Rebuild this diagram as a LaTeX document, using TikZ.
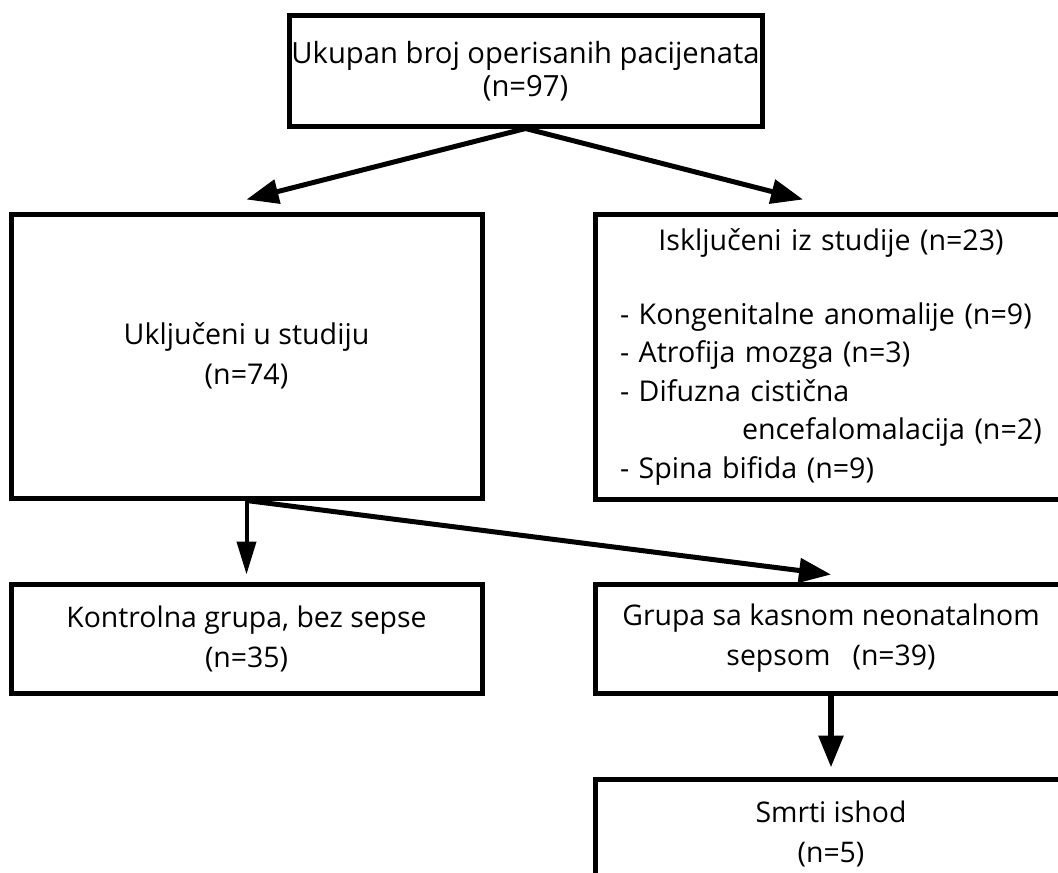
\documentclass[tikz,border=0pt]{standalone}
\usepackage{fontspec}
\setmainfont{Open Sans}
\usetikzlibrary{arrows.meta}

\begin{document}
\begin{tikzpicture}[x=0.5pt, y=-0.5pt,
    box/.style={draw, line width=2.5pt, inner sep=0pt, align=center,
      font=\fontsize{14.2}{20}\selectfont},
    arr/.style={-{Triangle[length=16pt, width=12pt]}, line width=2.5pt}]

    % Frame of the picture (the right-hand boxes run off the edge)
    \useasboundingbox (0,0) rectangle (1058,872);
    \clip (0,0) rectangle (1058,872);

    % Boxes
    \node[box, minimum width=236.5pt, minimum height=55pt,
      font=\fontsize{14.6}{16.5}\selectfont] (total) at (525.5,71)
      {Ukupan broj operisanih pacijenata\\(n=97)};

    \node[box, minimum width=235.5pt, minimum height=142pt,
      font=\fontsize{14.3}{20}\selectfont] (incl) at (246.5,356)
      {Uključeni u studiju\\(n=74)};

    \node[box, minimum width=236pt, minimum height=142.5pt, text width=211pt,
      align=left, font=\fontsize{14.3}{19.2}\selectfont] (excl) at (831,356.5)
      {{\centering Isključeni iz studije (n=23)\par}
       \vspace{18pt}
       - Kongenitalne anomalije (n=9)\\
       - Atrofija mozga (n=3)\\
       - Difuzna cistična\\
       \hspace*{61pt}encefalomalacija (n=2)\\
       - Spina bifida (n=9)};

    \node[box, minimum width=235.5pt, minimum height=54.5pt] (control) at (246.5,638.5)
      {Kontrolna grupa, bez sepse\\(n=35)};

    \node[box, minimum width=236pt, minimum height=54.5pt] (sepsis) at (831,638.5)
      {Grupa sa kasnom neonatalnom\\sepsom\ \ \ (n=39)};

    \node[box, minimum width=236pt, minimum height=54.5pt] (death) at (831,833.5)
      {Smrti ishod\\(n=5)};

    % Arrows
    \draw[arr] (total.south) -- ([yshift=6pt]incl.north);
    \draw[arr] (total.south) -- ([xshift=-14pt, yshift=6pt]excl.north);
    \draw[-{Triangle[length=16.5pt, width=9.5pt]}, line width=2pt]
      (incl.south) -- ([yshift=3.5pt]control.north);
    \draw[arr] (incl.south) -- ([yshift=3.5pt]sepsis.north);
    \draw[arr, line width=3pt] (sepsis.south) -- ([yshift=4.5pt]death.north);
\end{tikzpicture}
\end{document}
